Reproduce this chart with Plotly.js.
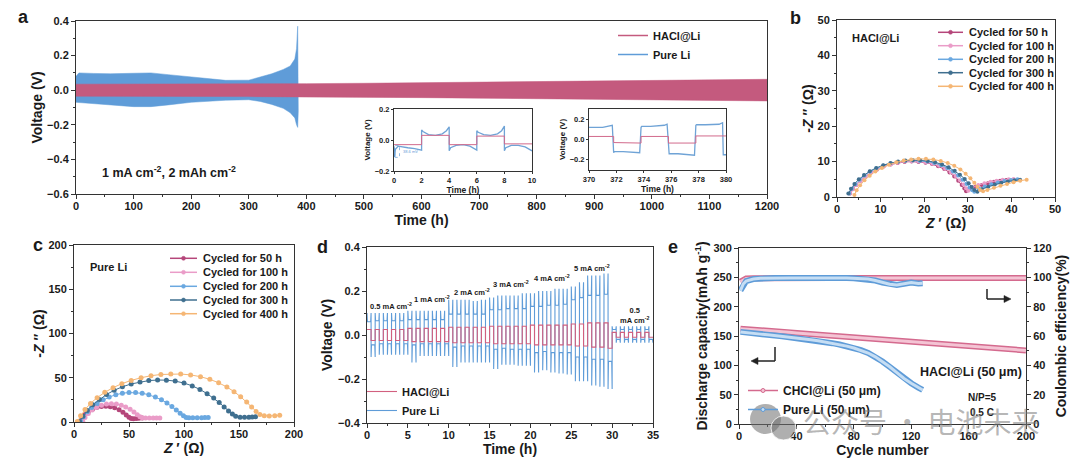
<!DOCTYPE html>
<html><head><meta charset="utf-8">
<script src="https://cdn.plot.ly/plotly-3.0.1.min.js"></script>
<style>html,body{margin:0;padding:0;background:#fff}#chart{width:1080px;height:464px}</style>
</head><body><div id="chart"></div>
<script>
// ===== Panel a: long-term cycling envelopes (V) =====
const aRedTime  = [0, 100, 200, 300, 400, 500, 600, 700, 800, 900, 1000, 1100, 1200];
const aRedUpper = [0.035, 0.035, 0.036, 0.037, 0.038, 0.040, 0.043, 0.046, 0.049, 0.052, 0.055, 0.059, 0.063];
const aRedLower = [-0.035, -0.036, -0.036, -0.037, -0.038, -0.040, -0.043, -0.046, -0.048, -0.051, -0.054, -0.058, -0.062];
const aBlueTime  = [0, 5, 30, 60, 100, 130, 160, 200, 230, 260, 300, 320, 340, 360, 372, 380, 383, 385, 386];
const aBlueUpper = [0.08, 0.10, 0.097, 0.095, 0.098, 0.10, 0.09, 0.076, 0.066, 0.057, 0.058, 0.075, 0.095, 0.12, 0.14, 0.18, 0.24, 0.37, 0.10];
const aBlueLower = [-0.07, -0.075, -0.08, -0.085, -0.095, -0.095, -0.085, -0.07, -0.064, -0.058, -0.055, -0.065, -0.082, -0.105, -0.13, -0.16, -0.2, -0.215, -0.12];

// inset 1 (0-10 h)
const in1BlueT = [0, 0.05, 0.1, 0.3, 1.0, 1.5, 2.0, 2.0, 2.1, 2.5, 3.0, 3.5, 3.8, 4.0, 4.0, 4.1, 4.5, 5.0, 5.5, 5.8, 6.0, 6.0, 6.1, 6.5, 7.0, 7.5, 7.8, 8.0, 8.0, 8.1, 8.5, 9.0, 9.5, 10];
const in1BlueV = [-0.04, -0.11, -0.06, -0.04, -0.05, -0.055, -0.065, 0.065, 0.055, 0.035, 0.03, 0.04, 0.06, 0.085, -0.07, -0.05, -0.035, -0.03, -0.04, -0.055, -0.065, 0.06, 0.05, 0.035, 0.03, 0.04, 0.06, 0.09, -0.07, -0.05, -0.035, -0.035, -0.045, -0.07];
const in1RedT = [0, 2, 2, 4, 4, 6, 6, 8, 8, 10];
const in1RedV = [-0.03, -0.03, 0.03, 0.03, -0.03, -0.03, 0.025, 0.025, -0.025, -0.025];
// inset 2 (370-380 h)
const in2BlueT = [370, 371, 371.7, 371.8, 371.85, 372.5, 373.7, 373.8, 373.85, 374.5, 375.5, 375.7, 375.8, 375.85, 376.5, 377.5, 377.7, 377.8, 377.85, 378.5, 379.5, 379.75, 379.8, 380];
const in2BlueV = [0.12, 0.12, 0.14, -0.13, -0.12, -0.12, -0.13, 0.12, 0.13, 0.13, 0.14, 0.15, -0.13, -0.14, -0.14, -0.15, -0.155, 0.14, 0.145, 0.145, 0.15, 0.165, -0.15, -0.15];
const in2RedT = [370, 371.8, 371.8, 373.8, 373.8, 375.8, 375.8, 377.8, 377.8, 380];
const in2RedV = [0.03, 0.03, -0.03, -0.035, 0.03, 0.03, -0.035, -0.035, 0.035, 0.035];

// ===== Panel b: HACl@Li Nyquist =====
const bLabels = ['Cycled for 50 h', 'Cycled for 100 h', 'Cycled for 200 h', 'Cycled for 300 h', 'Cycled for 400 h'];
const bX = [
 [3.0,3.6,4.4,5.4,6.5,7.8,9.2,10.7,12.3,13.9,15.5,17.1,18.7,20.3,21.8,23.2,24.6,25.8,26.9,27.8,28.6,29.2,29.6,30.5,31.8,33.2,34.6,36.0,37.4,38.8],
 [3.0,3.6,4.4,5.4,6.5,7.8,9.2,10.7,12.3,13.9,15.5,17.1,18.7,20.3,21.9,23.4,24.8,26.1,27.2,28.2,29.0,29.6,30.1,31.0,32.4,33.8,35.2,36.6,38.0,39.4,40.5],
 [2.8,3.4,4.2,5.2,6.3,7.6,9.0,10.6,12.2,13.9,15.6,17.3,19.0,20.7,22.3,23.9,25.3,26.6,27.8,28.8,29.7,30.4,31.0,31.5,32.5,33.9,35.4,36.9,38.4,39.9,41.4],
 [2.6,3.2,4.0,5.0,6.2,7.5,9.0,10.6,12.3,14.0,15.7,17.4,19.1,20.8,22.5,24.1,25.6,27.0,28.2,29.3,30.2,30.9,31.5,32.2,33.2,34.7,36.2,37.7,39.2,40.7,42.0],
 [4.0,4.5,5.3,6.3,7.5,8.8,10.3,11.9,13.6,15.3,17.0,18.7,20.4,22.1,23.8,25.4,26.9,28.3,29.5,30.6,31.5,32.2,32.8,33.5,34.5,36.0,37.5,39.0,40.5,42.0,43.5]
];
const bY = [
 [1.0,2.2,3.4,4.6,5.8,6.9,7.8,8.6,9.2,9.6,9.9,10.0,9.9,9.7,9.3,8.7,7.9,6.9,5.8,4.6,3.4,2.4,1.6,2.4,2.9,3.4,3.9,4.3,4.6,4.8],
 [1.0,2.2,3.4,4.6,5.8,6.9,7.8,8.6,9.2,9.7,10.0,10.1,10.0,9.8,9.4,8.8,8.0,7.0,5.9,4.7,3.5,2.5,1.8,2.8,3.4,3.9,4.3,4.6,4.9,5.0,5.1],
 [1.0,2.3,3.6,4.9,6.1,7.2,8.1,8.9,9.5,9.9,10.2,10.3,10.2,10.0,9.6,9.0,8.2,7.2,6.1,4.9,3.7,2.7,1.9,1.5,2.3,3.0,3.6,4.1,4.5,4.8,5.0],
 [1.0,2.3,3.7,5.0,6.2,7.3,8.2,9.0,9.6,10.0,10.3,10.4,10.4,10.2,9.8,9.2,8.4,7.4,6.3,5.1,3.9,2.8,2.0,1.5,2.2,2.9,3.5,4.0,4.4,4.7,4.9],
 [0.6,1.9,3.3,4.7,6.0,7.2,8.2,9.1,9.8,10.3,10.6,10.8,10.8,10.6,10.2,9.6,8.8,7.8,6.6,5.3,4.0,2.9,2.0,1.6,2.0,2.6,3.2,3.7,4.2,4.6,4.9]
];
// ===== Panel c: Pure Li Nyquist =====
const cX = [
 [5,7,10,13,17,21,25,29,33,37,41,44.5,47.5,50,52,54,56.5,59,62],
 [8,10,13,16.5,20.5,25,29.5,34,38.5,43,47,51,54.5,57.5,60,62,65,68.5,72,75,78],
 [6,8.5,12,16,21,26.5,32,38,44,50,56,62,68,74,79.5,84.5,89,93,96.5,99.5,102,104.5,108,112,116,119,122],
 [5,8,12,17,23,29.5,36.5,44,52,60,68,76,84,92,100,107.5,114.5,121,127,132,136.5,140.5,144,147,151,155,159,162,165],
 [3,6,10,15,21,28,35.5,43.5,52,61,70,79,88,97,106,115,123.5,131.5,139,145.5,151.5,157,161.5,165.5,169,173,177.5,182.5,187]
];
const cY = [
 [0.5,4.5,8.5,12,14.8,16.6,17.6,17.8,17.3,16,13.8,11,8,5.5,4,3.8,4,4.3,4.6],
 [0.5,5,9.5,13.5,16.7,19,20.3,20.7,20.3,19,17,14.3,11.2,8.2,5.8,4.8,4.6,4.6,4.6,4.5,4.4],
 [0.5,6,11.5,16.5,21,25,28.2,30.8,32.5,33.3,33.3,32.5,30.8,28.3,25.2,21.5,17.5,13.5,10,7,5.2,4.8,4.7,4.7,4.8,5,5.2],
 [0.5,6.5,13,19.5,25.5,31,35.8,39.8,43,45.3,46.8,47.4,47.3,46.2,44,40.8,36.8,32,27,22,17,12.5,9,6.5,5.5,5.3,5.4,5.6,5.8],
 [0.5,7,14,21,27.5,33.5,38.8,43.3,47,50,52.3,53.7,54.3,54.2,53.2,51.2,48.2,44.3,39.5,34.3,28.5,22.5,17,12,8.5,7,6.8,7,7.5]
];
const eisColors = ['#b5467a', '#ea9cc8', '#6aa8e0', '#3f6f8f', '#f5b674'];

// ===== Panel d: rate performance, per 1-h cycle =====
const dCycleStart = [0,1,2,3,4,5,6,7,8,9,10,11,12,13,14,15,16,17,18,19,20,21,22,23,24,25,26,27,28,29,30,31,32,33,34];
const dBluePeakUp = [0.10,0.10,0.10,0.10,0.10, 0.11,0.11,0.11,0.11,0.11, 0.16,0.16,0.16,0.155,0.16, 0.17,0.18,0.18,0.18,0.19, 0.19,0.20,0.20,0.21,0.21, 0.22,0.24,0.27,0.27,0.28, 0.04,0.04,0.04,0.04,0.04];
const dBlueFlatUp = [0.06,0.065,0.065,0.065,0.065, 0.07,0.07,0.07,0.07,0.07, 0.095,0.095,0.095,0.095,0.095, 0.115,0.115,0.12,0.12,0.12, 0.13,0.13,0.135,0.135,0.14, 0.16,0.17,0.18,0.18,0.185, 0.025,0.025,0.025,0.025,0.025];
const dBlueFlatLo = [-0.045,-0.04,-0.04,-0.04,-0.04, -0.045,-0.04,-0.04,-0.04,-0.04, -0.055,-0.05,-0.05,-0.05,-0.05, -0.065,-0.06,-0.065,-0.065,-0.065, -0.08,-0.075,-0.08,-0.08,-0.08, -0.1,-0.1,-0.11,-0.11,-0.12, -0.02,-0.02,-0.02,-0.02,-0.02];
const dBluePeakLo = [-0.1,-0.09,-0.09,-0.09,-0.09, -0.125,-0.095,-0.095,-0.095,-0.095, -0.145,-0.125,-0.125,-0.125,-0.125, -0.155,-0.135,-0.135,-0.14,-0.14, -0.17,-0.16,-0.17,-0.175,-0.18, -0.21,-0.21,-0.23,-0.235,-0.245, -0.035,-0.035,-0.035,-0.035,-0.035];
const dRedUp = [0.025,0.025,0.025,0.025,0.025, 0.03,0.03,0.03,0.03,0.03, 0.035,0.035,0.035,0.035,0.035, 0.04,0.04,0.04,0.04,0.04, 0.045,0.045,0.045,0.045,0.045, 0.05,0.05,0.055,0.055,0.055, 0.012,0.012,0.012,0.012,0.012];
const dRedLo = [-0.025,-0.025,-0.025,-0.025,-0.025, -0.03,-0.03,-0.03,-0.03,-0.03, -0.035,-0.035,-0.035,-0.035,-0.035, -0.04,-0.04,-0.04,-0.04,-0.04, -0.045,-0.045,-0.045,-0.045,-0.045, -0.05,-0.05,-0.055,-0.055,-0.06, -0.01,-0.01,-0.01,-0.01,-0.01];
const dRateLabels = ['0.5 mA cm<sup>-2</sup>', '1 mA cm<sup>-2</sup>', '2 mA cm<sup>-2</sup>', '3 mA cm<sup>-2</sup>', '4 mA cm<sup>-2</sup>', '5 mA cm<sup>-2</sup>', '0.5<br>mA cm<sup>-2</sup>'];

// ===== Panel e: full cell cycling =====
const eCycleR = [1,5,10,15,20,25,30,35,40,45,50,55,60,65,70,75,80,85,90,95,100,105,110,115,120,125,130,135,140,145,150,155,160,165,170,175,180,185,190,195,200];
const eRedCap = [162.5,161.9,160.9,159.9,159.0,158.1,157.1,156.2,155.2,154.3,153.4,152.4,151.5,150.6,149.6,148.7,147.8,146.8,145.9,145.0,144.0,143.1,142.2,141.2,140.3,139.4,138.4,137.5,136.6,135.6,134.6,133.7,132.8,131.8,130.8,129.9,128.9,128.0,127.1,126.3,125.4];
const eRedCE  = [97.0,99.2,99.4,99.5,99.5,99.6,99.5,99.6,99.5,99.5,99.6,99.5,99.5,99.6,99.5,99.5,99.6,99.5,99.5,99.5,99.6,99.5,99.5,99.6,99.5,99.5,99.6,99.5,99.5,99.5,99.6,99.5,99.5,99.6,99.5,99.5,99.5,99.6,99.5,99.5,99.5];
const eCycleB = [1,3,5,10,15,20,25,30,35,40,45,50,55,60,65,70,75,80,85,90,95,100,105,110,115,120,125,128];
const eBlueCap = [157,156.3,155.7,154.5,153.2,152,150.8,149.6,148.2,146.8,145.3,143.7,142,140,137.8,135.5,132.8,129.6,125.8,121,114.5,106.5,97.5,87.5,77.5,69.5,62,58];
const eBlueCE  = [91,95.5,97.5,98.8,99.3,99.5,99.6,99.5,99.6,99.6,99.5,99.6,99.5,99.5,99.6,99.5,99.5,99.4,99.2,98.8,97.8,96.5,95.3,94.8,95.6,96.4,95.8,96];

// ===== helpers =====
const W = 1080, H = 464;
const px = v => v / W, py = v => 1 - v / H;
const FONT = 'Liberation Sans, Arial, sans-serif';
const TXT = '#1a1a1a';
function axis(o) {
  const base = {showline: true, mirror: true, linecolor: '#333', linewidth: 1, ticks: 'outside', ticklen: 4,
    tickwidth: 1, tickcolor: '#333', showgrid: false, zeroline: false,
    tickfont: {family: FONT, size: o.tf || 11, weight: 'bold', color: TXT}};
  if (o.title) base.title = {text: o.title, standoff: o.standoff, font: {family: FONT, size: o.ts || 14, weight: 'bold', color: TXT}};
  if (o.minor) base.minor = {dtick: o.minor, ticklen: 2, tickcolor: '#333', showgrid: false};
  ['domain','range','dtick','tickvals','tickformat','anchor','overlaying','side','ticklen','ticklabelstandoff'].forEach(k => { if (o[k] !== undefined) base[k] = o[k]; });
  return base;
}
function band(t, up, lo) {
  return {x: t.concat(t.slice().reverse()), y: up.concat(lo.slice().reverse())};
}
const RED_A = '#c45a7e', BLUE_A = '#5f9cd8';

const traces = [];
// ---- panel a ----
const bb = band(aBlueTime, aBlueUpper, aBlueLower);
traces.push({x: bb.x, y: bb.y, mode: 'lines', fill: 'toself', fillcolor: BLUE_A, line: {color: BLUE_A, width: 0.5}, showlegend: false, hoverinfo: 'skip'});
const rb = band(aRedTime, aRedUpper, aRedLower);
traces.push({x: rb.x, y: rb.y, mode: 'lines', fill: 'toself', fillcolor: RED_A, line: {color: RED_A, width: 0.5}, showlegend: false, hoverinfo: 'skip'});
traces.push({x: [null], y: [null], mode: 'lines', name: 'HACl@Li', line: {color: RED_A, width: 1.5}, legend: 'legend'});
traces.push({x: [null], y: [null], mode: 'lines', name: 'Pure Li', line: {color: BLUE_A, width: 1.5}, legend: 'legend'});
// insets
traces.push({x: in1BlueT, y: in1BlueV, xaxis: 'x2', yaxis: 'y2', mode: 'lines', line: {color: '#6fa3d6', width: 1.3}, showlegend: false});
traces.push({x: in1RedT, y: in1RedV, xaxis: 'x2', yaxis: 'y2', mode: 'lines', line: {color: '#d26a8c', width: 1}, showlegend: false});
traces.push({x: in2BlueT, y: in2BlueV, xaxis: 'x3', yaxis: 'y3', mode: 'lines', line: {color: '#6fa3d6', width: 1.3}, showlegend: false});
traces.push({x: in2RedT, y: in2RedV, xaxis: 'x3', yaxis: 'y3', mode: 'lines', line: {color: '#d26a8c', width: 1}, showlegend: false});
// ---- panels b, c ----
for (let i = 0; i < 5; i++) {
  traces.push({x: bX[i], y: bY[i], xaxis: 'x4', yaxis: 'y4', mode: 'lines+markers', name: bLabels[i],
    line: {color: eisColors[i], width: 1}, marker: {color: eisColors[i], size: 4}, showlegend: false});
}
for (let i = 0; i < 5; i++) {
  traces.push({x: cX[i], y: cY[i], xaxis: 'x5', yaxis: 'y5', mode: 'lines+markers', name: bLabels[i],
    line: {color: eisColors[i], width: 1}, marker: {color: eisColors[i], size: 5}, showlegend: false});
}
// ---- panel d ----
const dbx = [], dby = [], drx = [], dry = [];
for (let i = 0; i < dCycleStart.length; i++) {
  const t = dCycleStart[i];
  dbx.push(t, t + 0.05, t + 0.45, t + 0.5, t + 0.5, t + 0.55, t + 0.95, t + 1);
  dby.push(dBluePeakUp[i], dBlueFlatUp[i], dBlueFlatUp[i], dBluePeakUp[i], dBluePeakLo[i], dBlueFlatLo[i], dBlueFlatLo[i], dBluePeakLo[i]);
  drx.push(t, t + 0.5, t + 0.5, t + 1);
  dry.push(dRedUp[i], dRedUp[i], dRedLo[i], dRedLo[i]);
}
traces.push({x: dbx, y: dby, xaxis: 'x6', yaxis: 'y6', mode: 'lines', name: 'Pure Li', legend: 'legend2', legendrank: 2,
  line: {color: BLUE_A, width: 1.1}});
traces.push({x: drx, y: dry, xaxis: 'x6', yaxis: 'y6', mode: 'lines', name: 'HACl@Li', legend: 'legend2', legendrank: 1,
  line: {color: '#d2607f', width: 1.1}});
// ---- panel e (tube look: dark wide line under a light narrow line, same data) ----
const eSeries = [
  {x: eCycleR, y: eRedCap, ax: 'y7', dark: '#d46a8e', light: '#f4c4d4'},
  {x: eCycleB, y: eBlueCap, ax: 'y7', dark: '#5f9cd8', light: '#c6def4'},
  {x: eCycleR, y: eRedCE, ax: 'y8', dark: '#d46a8e', light: '#f4c4d4'},
  {x: eCycleB, y: eBlueCE, ax: 'y8', dark: '#5f9cd8', light: '#c6def4'}
];
eSeries.forEach(s => {
  traces.push({x: s.x, y: s.y, xaxis: 'x7', yaxis: s.ax, mode: 'lines', line: {color: s.dark, width: 6}, showlegend: false});
  traces.push({x: s.x, y: s.y, xaxis: 'x7', yaxis: s.ax, mode: 'lines', line: {color: s.light, width: 3}, showlegend: false});
});
traces.push({x: [null], y: [null], xaxis: 'x7', yaxis: 'y7', mode: 'lines+markers', name: 'CHCl@Li (50 μm)', legend: 'legend3',
  line: {color: '#d46a8e', width: 1.5}, marker: {size: 4, color: '#f4c4d4', line: {color: '#d46a8e', width: 1}}});
traces.push({x: [null], y: [null], xaxis: 'x7', yaxis: 'y7', mode: 'lines+markers', name: 'Pure Li (50 μm)', legend: 'legend3',
  line: {color: '#5f9cd8', width: 1.5}, marker: {size: 4, color: '#c6def4', line: {color: '#5f9cd8', width: 1}}});

// ---- annotations ----
const ann = [];
const bold = (size) => ({family: FONT, size: size, weight: 'bold', color: TXT});
function label(text, x, y, size, xanchor) {
  ann.push({text: text, x: px(x), y: py(y), xref: 'paper', yref: 'paper', showarrow: false, xanchor: xanchor || 'center', yanchor: 'middle', font: bold(size)});
}
label('a', 23, 17, 18); label('b', 795, 18, 18); label('c', 38, 245, 18); label('d', 322, 247, 18); label('e', 673, 247, 18);
label('1 mA cm<sup>-2</sup>, 2 mAh cm<sup>-2</sup>', 100, 172, 12.5, 'left');
label('HACl@Li', 850, 38, 11, 'left');
label('Pure Li', 88, 267, 11, 'left');
const rateXY = [[391, 306], [432, 299], [472, 292], [511, 284], [552, 278], [592, 268], [635, 315]];
dRateLabels.forEach((t, i) => label(t, rateXY[i][0], rateXY[i][1], 7.5));
label('HACl@Li (50 μm)', 971, 372, 12.5);
label('N/P=5', 982, 397, 10);
label('0.5 C', 982, 412, 10);
ann.push({text: '38.6 mV', x: 0.5, y: -0.075, xref: 'x2', yref: 'y2', showarrow: false, xanchor: 'left', font: {family: FONT, size: 4, color: BLUE_A}});
// custom legends for b and c
const shapes = [];
function legendRow(x0, x1, yy, color, text) {
  shapes.push({type: 'line', xref: 'paper', yref: 'paper', x0: px(x0), x1: px(x1), y0: py(yy), y1: py(yy), line: {color: color, width: 1.5}});
  shapes.push({type: 'circle', xref: 'paper', yref: 'paper', xsizemode: 'pixel', ysizemode: 'pixel', xanchor: px((x0 + x1) / 2), yanchor: py(yy),
    x0: -2, x1: 2, y0: -2, y1: 2, fillcolor: color, line: {color: color, width: 0.5}});
  label(text, x1 + 4, yy, 11, 'left');
}
const bRows = [32.3, 45.7, 59.3, 72.7, 86.3];
const cRows = [258.3, 272.3, 286.3, 300.0, 313.7];
for (let i = 0; i < 5; i++) { legendRow(938, 963, bRows[i], eisColors[i], bLabels[i]); legendRow(170, 197, cRows[i], eisColors[i], bLabels[i]); }
// inset dashed box
shapes.push({type: 'rect', xref: 'x2', yref: 'y2', x0: 0.05, x1: 0.4, y0: -0.112, y1: -0.035, line: {color: BLUE_A, width: 0.7, dash: 'dot'}});
// e bent arrows
function seg(x0, y0, x1, y1) { shapes.push({type: 'line', xref: 'paper', yref: 'paper', x0: px(x0), x1: px(x1), y0: py(y0), y1: py(y1), line: {color: '#222', width: 1.5}}); }
function tri(pts) { shapes.push({type: 'path', xref: 'paper', yref: 'paper', path: 'M' + pts.map(p => px(p[0]) + ',' + py(p[1])).join(' L') + ' Z', fillcolor: '#222', line: {color: '#222', width: 0.5}}); }
seg(775, 347, 775, 361); seg(775, 361, 757, 361); tri([[751, 361], [758, 357.5], [758, 364.5]]);
seg(987, 289, 987, 299); seg(987, 299, 1005, 299); tri([[1011, 299], [1004, 295.5], [1004, 302.5]]);
// watermark
shapes.push({type: 'circle', xref: 'paper', yref: 'paper', x0: px(750), x1: px(781), y0: py(434), y1: py(404), fillcolor: 'rgba(110,110,110,0.55)', line: {width: 0}});
shapes.push({type: 'circle', xref: 'paper', yref: 'paper', x0: px(771), x1: px(796), y0: py(440), y1: py(416), fillcolor: 'rgba(110,110,110,0.55)', line: {color: 'rgba(255,255,255,0.8)', width: 1}});
ann.push({text: '公众号 ・ 电池未来', x: px(921), y: py(421), xref: 'paper', yref: 'paper', showarrow: false, xanchor: 'center', yanchor: 'middle',
  font: {family: 'Noto Sans CJK SC', size: 28, color: 'rgba(120,120,120,0.55)'}});

const layout = {
  width: W, height: H, margin: {l: 0, r: 0, t: 0, b: 0}, paper_bgcolor: '#fff', plot_bgcolor: '#fff',
  font: {family: FONT, color: TXT}, showlegend: true,
  xaxis: axis({domain: [px(76), px(767)], range: [0, 1200], dtick: 100, minor: 50, title: 'Time (h)', standoff: 0, ticklabelstandoff: -2, anchor: 'y'}),
  yaxis: axis({domain: [py(194), py(21)], range: [-0.6, 0.4], dtick: 0.2, tickformat: '.1f', minor: 0.1, title: 'Voltage (V)', standoff: 1, anchor: 'x'}),
  xaxis2: axis({domain: [px(394), px(532)], range: [0, 10], dtick: 2, tf: 7.5, ticklen: 2, title: 'Time (h)', ts: 8.5, standoff: 1, anchor: 'y2'}),
  yaxis2: axis({domain: [py(171), py(109)], range: [-0.2, 0.2], dtick: 0.2, tickformat: '.1f', tf: 7.5, ticklen: 2, title: 'Voltage (V)', ts: 8, standoff: 2, anchor: 'x2'}),
  xaxis3: axis({domain: [px(589), px(726)], range: [370, 380], dtick: 2, tf: 7.5, ticklen: 2, title: 'Time (h)', ts: 8.5, standoff: 1, anchor: 'y3'}),
  yaxis3: axis({domain: [py(170), py(109)], range: [-0.3, 0.3], tickvals: [-0.2, 0, 0.2], tickformat: '.1f', tf: 7.5, ticklen: 2, title: 'Voltage (V)', ts: 8, standoff: 2, anchor: 'x3'}),
  xaxis4: axis({domain: [px(837), px(1055)], range: [0, 50], dtick: 10, minor: 5, title: '<i>Z</i> ′ (Ω)', standoff: 0, ticklabelstandoff: -2, anchor: 'y4'}),
  yaxis4: axis({domain: [py(197), py(20)], range: [0, 50], dtick: 10, minor: 5, title: '-<i>Z</i> ″ (Ω)', standoff: 0, anchor: 'x4'}),
  xaxis5: axis({domain: [px(74), px(294)], range: [0, 200], dtick: 50, minor: 25, title: '<i>Z</i> ′ (Ω)', standoff: 0, ticklabelstandoff: -2, anchor: 'y5'}),
  yaxis5: axis({domain: [py(422), py(245)], range: [0, 200], dtick: 50, minor: 25, title: '-<i>Z</i> ″ (Ω)', standoff: 0, anchor: 'x5'}),
  xaxis6: axis({domain: [px(367), px(653)], range: [0, 35], dtick: 5, minor: 2.5, title: 'Time (h)', standoff: 0, ticklabelstandoff: -2, anchor: 'y6'}),
  yaxis6: axis({domain: [py(423), py(247)], range: [-0.4, 0.4], dtick: 0.2, tickformat: '.1f', minor: 0.1, title: 'Voltage (V)', standoff: 2, anchor: 'x6'}),
  xaxis7: axis({domain: [px(739), px(1026)], range: [0, 200], dtick: 40, minor: 20, title: 'Cycle number', standoff: 0, ticklabelstandoff: -2, anchor: 'y7'}),
  yaxis7: axis({domain: [py(424), py(248)], range: [0, 300], dtick: 50, minor: 25, title: 'Discharge capacity(mAh g<sup>-1</sup>)', standoff: 2, anchor: 'x7'}),
  yaxis8: axis({range: [0, 120], dtick: 20, minor: 10, title: 'Coulombic efficiency(%)', standoff: 5, anchor: 'x7', overlaying: 'y7', side: 'right'}),
  legend: {x: px(613), y: py(21), xanchor: 'left', yanchor: 'top', bgcolor: 'rgba(0,0,0,0)', font: bold(11), tracegroupgap: 0},
  legend2: {x: px(362), y: py(377), xanchor: 'left', yanchor: 'top', bgcolor: 'rgba(0,0,0,0)', font: bold(11), tracegroupgap: 0},
  legend3: {x: px(743), y: py(376), xanchor: 'left', yanchor: 'top', bgcolor: 'rgba(0,0,0,0)', font: bold(12), tracegroupgap: 0},
  annotations: ann, shapes: shapes
};
Plotly.newPlot('chart', traces, layout, {displayModeBar: false, staticPlot: true});
</script></body></html>
